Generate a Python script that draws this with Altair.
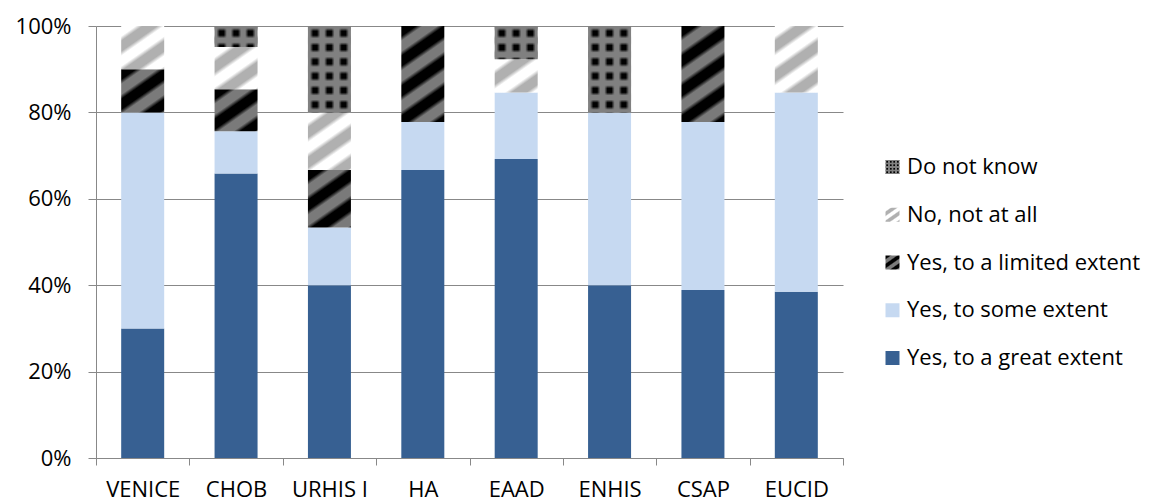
import math
import altair as alt

# ---------------- data ----------------
studies = ["VENICE", "CHOB", "URHIS I", "HA", "EAAD", "ENHIS", "CSAP", "EUCID"]
categories = [
    "Yes, to a great extent",
    "Yes, to some extent",
    "Yes, to a limited extent",
    "No, not at all",
    "Do not know",
]
great = [30.0, 65.85, 40.0, 66.67, 69.23, 40.0, 38.89, 38.46]
some = [50.0, 9.76, 13.33, 11.11, 15.38, 40.0, 38.89, 46.15]
limited = [10.0, 9.76, 13.33, 22.22, 0.0, 0.0, 22.22, 0.0]
no_all = [10.0, 9.76, 13.33, 0.0, 7.69, 0.0, 0.0, 15.38]
dont_know = [0.0, 4.88, 20.0, 0.0, 7.69, 20.0, 0.0, 0.0]
y_ticks = [0, 20, 40, 60, 80, 100]

series = [great, some, limited, no_all, dont_know]

# ---------------- styling helpers ----------------
PLOT_W, PLOT_H = 747, 432
BAR_W = 43
FONT = "Open Sans"
FS = 22
GRID = "#888888"


def _stops(n, pat):
    stops = []
    k = 0
    done = False
    while not done:
        for p, c in pat:
            off = (k + p) / n
            if off >= 1.0:
                stops.append({"offset": 1.0, "color": c})
                done = True
                break
            if stops and off <= stops[-1]["offset"]:
                continue
            stops.append({"offset": off, "color": c})
        k += 1
    return stops


def stripes(w, h, c1, c2, slope=0.7, period=30.0, share=0.5, ramp=0.16):
    """Diagonal '/' stripes as a bounding-box linear gradient."""
    total = slope * w + h
    n = total / period
    lam = total / (slope * slope * w * w + h * h)
    pat = [(0.0, c1), (share - ramp, c1), (share, c2), (1.0 - ramp, c2), (1.0, c1)]
    return {"gradient": "linear", "x1": 0, "y1": 0,
            "x2": lam * slope * w, "y2": lam * h, "stops": _stops(n, pat)}


def bands(length, period, c_out, c_in, vertical):
    n = length / period
    pat = [(0.0, c_out), (0.14, c_out), (0.36, c_in), (0.64, c_in), (0.86, c_out), (1.0, c_out)]
    if vertical:
        return {"gradient": "linear", "x1": 0, "y1": 0, "x2": 1, "y2": 0, "stops": _stops(n, pat)}
    return {"gradient": "linear", "x1": 0, "y1": 0, "x2": 0, "y2": 1, "stops": _stops(n, pat)}


def fills(cat, w, h, dot_period=14.3, stripe_period=30.0):
    if cat == categories[0]:
        return "#376092", None
    if cat == categories[1]:
        return "#C6D9F1", None
    if cat == categories[2]:
        return stripes(w, h, "#000000", "#7a7a7a", period=stripe_period), None
    if cat == categories[3]:
        return stripes(w, h, "#ffffff", "#b0b0b0", period=stripe_period), None
    base = bands(w, dot_period, "#808080", "#000000", True)
    over = bands(h, dot_period, "rgba(128,128,128,1)", "rgba(128,128,128,0)", False)
    return base, over


records = []
for i, s in enumerate(studies):
    for j, cat in enumerate(categories):
        v = series[j][i]
        if v <= 0:
            continue
        g, g2 = fills(cat, BAR_W, v / 100.0 * PLOT_H)
        rec = {"study": s, "cat": cat, "order": j, "value": v, "grad": g}
        if g2 is not None:
            rec["grad2"] = g2
        records.append(rec)

leg_records = []
for k, cat in enumerate(reversed(categories)):
    g, g2 = fills(cat, 14, 14, dot_period=3.5, stripe_period=9.0)
    rec = {"idx": k, "label": cat, "grad": g}
    if g2 is not None:
        rec["grad2"] = g2
    leg_records.append(rec)

no_border = alt.ViewBackground(strokeOpacity=0, strokeWidth=0)

# ---------------- main chart ----------------
base = alt.Chart(alt.Data(values=records)).transform_stack(
    stack="value",
    groupby=["study"],
    as_=["y0", "y1"],
    sort=[alt.SortField("order", order="ascending")],
)

x_enc = alt.X(
    "study:N",
    sort=studies,
    scale=alt.Scale(paddingInner=0, paddingOuter=0),
    axis=alt.Axis(
        title=None, labelAngle=0, tickBand="extent", tickSize=7,
        labelPadding=14, domainColor=GRID, tickColor=GRID,
        labelFont=FONT, labelFontSize=FS, labelColor="#000000",
    ),
)
y_enc = alt.Y(
    "y0:Q",
    scale=alt.Scale(domain=[0, 100], nice=False),
    axis=alt.Axis(
        title=None, values=y_ticks, labelExpr="datum.value + '%'",
        tickSize=8, labelPadding=17, domainColor=GRID, tickColor=GRID,
        gridColor=GRID, grid=True, labelFont=FONT, labelFontSize=FS,
        labelColor="#000000",
    ),
)

bars = base.mark_bar(width=BAR_W, strokeWidth=0).encode(
    x=x_enc, y=y_enc, y2="y1:Q", fill=alt.Fill("grad:N", scale=None)
)
dots = base.transform_filter(alt.datum.cat == categories[4]).mark_bar(
    width=BAR_W, strokeWidth=0
).encode(x=x_enc, y=y_enc, y2="y1:Q", fill=alt.Fill("grad2:N", scale=None))

main = alt.layer(bars, dots).properties(width=PLOT_W, height=PLOT_H, view=no_border)

# ---------------- legend ----------------
leg = alt.Chart(alt.Data(values=leg_records))
ly = alt.Y("idx:Q", scale=alt.Scale(domain=[-2.953, 6.094], reverse=True), axis=None)
sq = leg.mark_square(size=196, opacity=1, strokeWidth=0).encode(
    x=alt.value(9.5), y=ly, fill=alt.Fill("grad:N", scale=None)
)
sq2 = leg.transform_filter("isValid(datum.grad2)").mark_square(
    size=196, opacity=1, strokeWidth=0
).encode(x=alt.value(9.5), y=ly, fill=alt.Fill("grad2:N", scale=None))
txt = leg.mark_text(
    align="left", baseline="middle", font=FONT, fontSize=FS, color="#000000"
).encode(x=alt.value(24), y=ly, text="label:N")
legend = alt.layer(sq, sq2, txt).properties(width=255, height=PLOT_H, view=no_border)

chart = (
    alt.hconcat(main, legend, spacing=40, bounds="flush")
    .properties(padding={"left": 7, "top": 7, "right": 5, "bottom": 5})
    .configure_view(strokeOpacity=0, strokeWidth=0)
    .configure(background="#ffffff")
)

chart.save("out.html", embed_options={"renderer": "svg", "actions": False})
